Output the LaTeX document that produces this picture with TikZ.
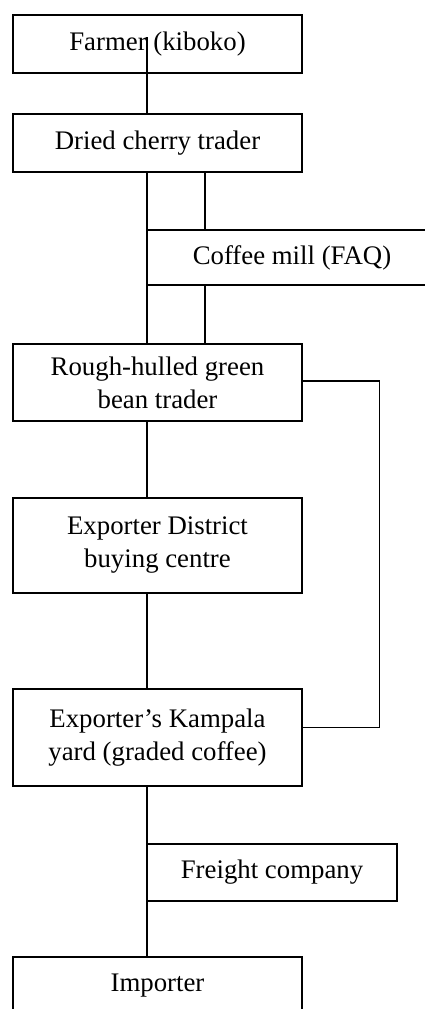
\documentclass[tikz,border=0pt]{standalone}
\usepackage{fontspec}
\setmainfont{Liberation Serif}
\begin{document}
\begin{tikzpicture}[x=1pt,y=-1pt,
  box/.style={draw, line width=1.3pt, inner sep=0pt, align=center,
    font=\fontsize{26.8}{33}\selectfont, minimum width=289pt},
  conn/.style={line width=1.3pt}]
\clip (0,0) rectangle (425,1009);
\fill[white] (0,0) rectangle (425,1009);
\node[box, minimum height=58pt] (farmer) at (157.5,44) {Farmer (kiboko)};
\node[box, minimum height=58pt] (dried) at (157.5,143) {Dried cherry trader};
\node[box, minimum height=55pt, minimum width=290pt] (coffee) at (292,257.5) {Coffee mill (FAQ)};
\node[box, minimum height=77pt] (rough) at (157.5,382.5) {Rough-hulled green\\bean trader};
\node[box, minimum height=95pt] (district) at (157.5,545.5) {Exporter District\\buying centre};
\node[box, minimum height=97pt] (kampala) at (157.5,737.5) {Exporter’s Kampala\\yard (graded coffee)};
\node[box, minimum height=57pt, minimum width=250pt] (freight) at (272,872.5) {Freight company};
\node[box, minimum height=58pt] (importer) at (157.5,986) {Importer};
\draw[conn] ([xshift=-10.5pt,yshift=7pt]farmer.center) -- ([xshift=-10.5pt]dried.north);
\draw[conn] ([xshift=-10.5pt]dried.south) -- ([xshift=-10.5pt]rough.north);
\draw[conn] ([xshift=47.5pt]dried.south) -- ([xshift=47.5pt]dried.south |- coffee.north);
\draw[conn] ([xshift=47.5pt]dried.south |- coffee.south) -- ([xshift=47.5pt]rough.north);
\draw[conn] ([xshift=-10.5pt]rough.south) -- ([xshift=-10.5pt]district.north);
\draw[conn] ([xshift=-10.5pt]district.south) -- ([xshift=-10.5pt]kampala.north);
\draw[conn] ([yshift=1.5pt]rough.east) -- ++(77,0) |- ([yshift=10pt]kampala.east);
\draw[conn] ([xshift=-10.5pt]kampala.south) -- ([xshift=-10.5pt]importer.north);
\end{tikzpicture}
\end{document}
